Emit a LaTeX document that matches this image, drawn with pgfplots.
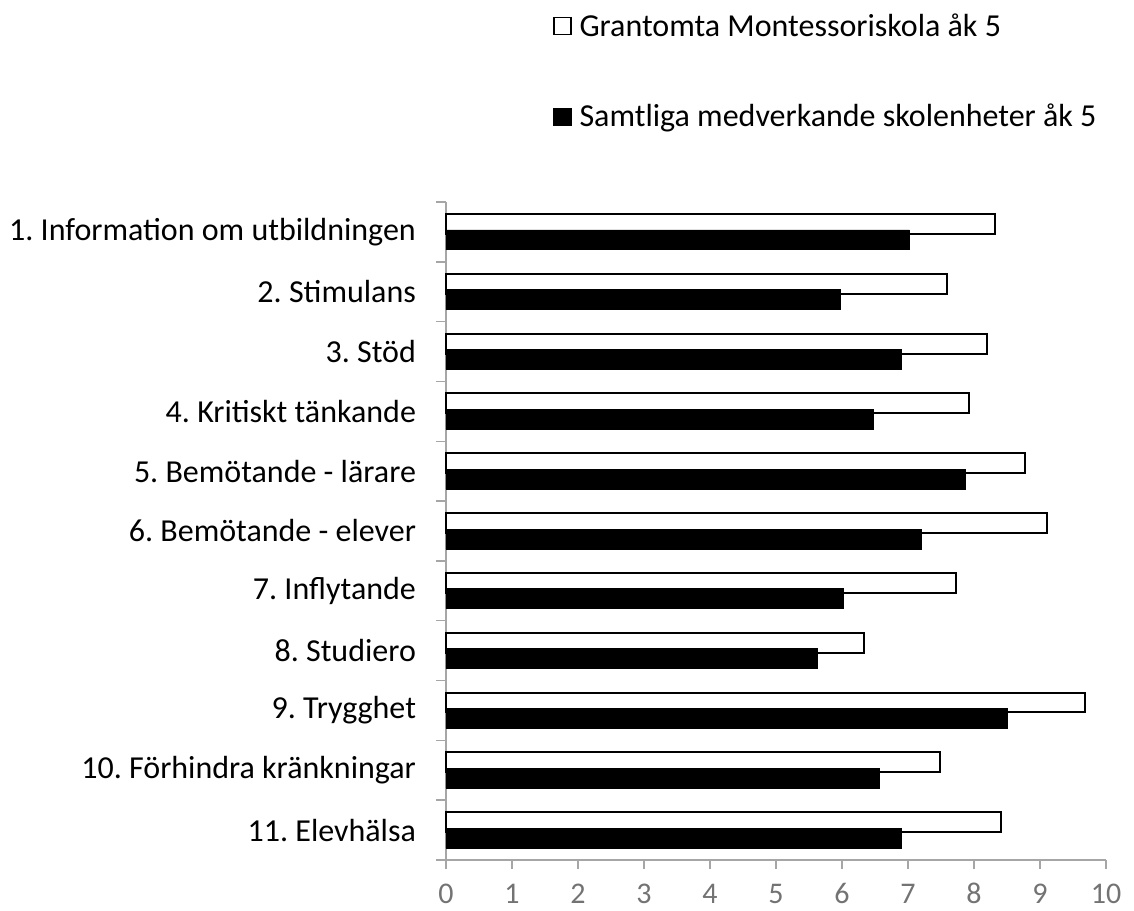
\documentclass[border=0pt]{standalone}
\usepackage{pgfplots}
\pgfplotsset{compat=1.18}
\usepackage{fontspec}
\setmainfont{Carlito}
\frenchspacing
\definecolor{axgray}{HTML}{A6A6A6}
\definecolor{tickgray}{HTML}{737373}
\begin{document}
\begin{tikzpicture}
\begin{axis}[
  at={(0,0)}, anchor=south west,
  scale only axis, width=330pt, height=329pt,
  xbar, bar width=0.333,
  y dir=reverse,
  ymin=-0.5, ymax=10.5,
  xmin=0, xmax=10,
  xtick={0,...,10},
  ytick={0,...,10},
  yticklabels={1. Information om utbildningen, 2. Stimulans, 3. Stöd, 4. Kritiskt tänkande, 5. Bemötande - lärare, 6. Bemötande - elever, 7. Inflytande, 8. Studiero, 9. Trygghet, 10. Förhindra kränkningar, 11. Elevhälsa},
  minor ytick={-0.5,0.5,...,10.5},
  axis x line*=bottom, axis y line*=left,
  axis line style={axgray, line width=0.75pt, -},
  tick align=outside,
  major tick length=4.5pt, minor tick length=5pt,
  major y tick style={draw=none},
  minor y tick style={axgray, line width=0.75pt},
  major x tick style={axgray, line width=0.75pt},
  /pgf/number format/assume math mode=true,
  yticklabel style={font=\fontsize{16}{19}\selectfont, xshift=-7pt},
  xticklabel style={text=tickgray, font=\fontsize{15}{18}\selectfont, text height=9.5pt, text depth=0pt, inner ysep=0pt, yshift=-7.75pt},
  clip=false,
  legend image code/.code={\draw[#1, line width=0.6pt] (0pt,-4.25pt) rectangle (8.5pt,4.25pt);},
  legend style={draw=none, fill=none, at={(axis description cs:0.162,1.198)}, anchor=west,
    font=\fontsize{16}{19}\selectfont, row sep=28.5pt, inner xsep=0pt,
    /tikz/every odd column/.append style={column sep=2pt}},
  legend cell align=left,
]
\addplot[draw=black, fill=white, line width=1pt] coordinates {
(8.32,0) (7.59,1) (8.19,2) (7.92,3) (8.77,4) (9.10,5) (7.73,6) (6.34,7) (9.68,8) (7.49,9) (8.41,10)};
\addplot[draw=black, fill=black] coordinates {
(7.02,0) (5.98,1) (6.90,2) (6.47,3) (7.87,4) (7.20,5) (6.02,6) (5.62,7) (8.51,8) (6.56,9) (6.90,10)};
\legend{Grantomta Montessoriskola åk 5, Samtliga medverkande skolenheter åk 5}
\end{axis}
\pgfresetboundingbox
\path (-223pt,-25pt) rectangle (344pt,430pt);
\end{tikzpicture}
\end{document}
